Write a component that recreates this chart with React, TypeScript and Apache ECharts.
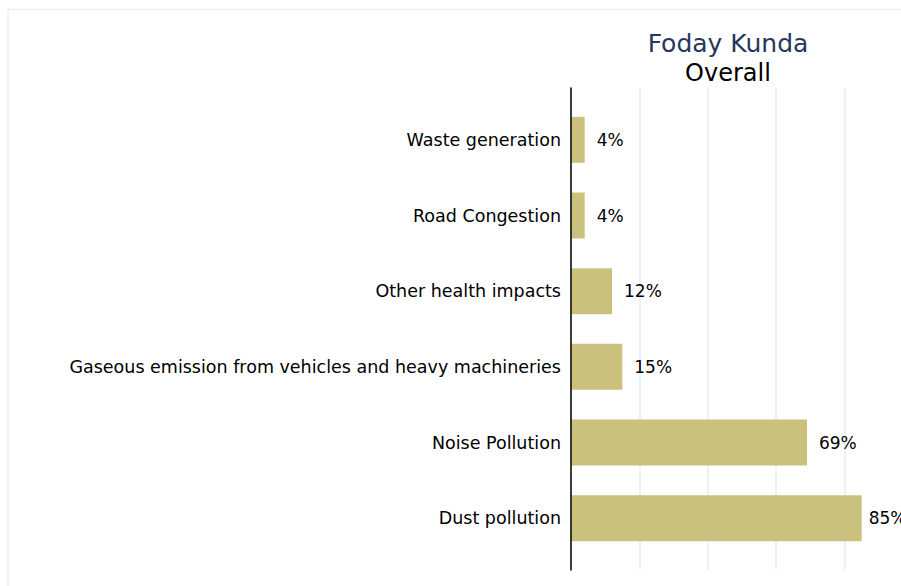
import React, { useEffect, useRef } from "react";
import * as echarts from "echarts";

const categories = [
  "Waste generation",
  "Road Congestion",
  "Other health impacts",
  "Gaseous emission from vehicles and heavy machineries",
  "Noise Pollution",
  "Dust pollution",
];
const values = [4, 4, 12, 15, 69, 85];
const xTicks = [0, 20, 40, 60, 80, 100];
const titleText = "Foday Kunda";
const subtitleText = "Overall";

const FONT = "DejaVu Sans";

export default function App() {
  const ref = useRef<HTMLDivElement>(null);
  useEffect(() => {
    if (!ref.current) return;
    const chart = echarts.init(ref.current, undefined, { renderer: "svg" });
    const xMin = xTicks[0];
    const xMax = xTicks[xTicks.length - 1];
    const xInterval = xTicks[1] - xTicks[0];
    const barData = values.map((v) =>
      v >= 80 ? { value: v, label: { distance: 7 } } : { value: v }
    );
    chart.setOption({
      animation: false,
      backgroundColor: "#ffffff",
      title: [
        {
          text: titleText,
          left: 723,
          top: 26,
          textAlign: "center",
          textStyle: { fontFamily: FONT, fontSize: 25, fontWeight: "normal", color: "#25375c" },
        },
        {
          text: subtitleText,
          left: 723,
          top: 56,
          textAlign: "center",
          textStyle: { fontFamily: FONT, fontSize: 24, fontWeight: "normal", color: "#000000" },
        },
      ],
      graphic: [
        {
          type: "rect",
          shape: { x: 8, y: 9.5, width: 1000, height: 700 },
          style: { fill: "none", stroke: "#e9f0f0", lineWidth: 1.5 },
          silent: true,
          z: -1,
        },
      ],
      grid: [
        { left: 571, width: 342, top: 88, height: 482 },
        { left: 571, width: 342, top: 102, height: 454 },
      ],
      xAxis: [
        {
          type: "value",
          gridIndex: 0,
          min: xMin,
          max: xMax,
          interval: xInterval,
          axisLine: { show: false },
          axisTick: { show: false },
          axisLabel: { show: false },
          splitLine: { show: true, lineStyle: { color: "#e4ecf0", width: 1.5 } },
        },
        {
          type: "value",
          gridIndex: 1,
          min: xMin,
          max: xMax,
          interval: xInterval,
          show: false,
          splitLine: { show: false },
        },
      ],
      yAxis: [
        {
          type: "category",
          gridIndex: 0,
          data: categories,
          inverse: true,
          axisLine: { show: true, lineStyle: { color: "#000000", width: 1.5 } },
          axisTick: { show: false },
          axisLabel: { show: false },
          splitLine: { show: false },
          z: 5,
        },
        {
          type: "category",
          gridIndex: 1,
          data: categories,
          inverse: true,
          axisLine: { show: false },
          axisTick: { show: false },
          axisLabel: {
            show: true,
            margin: 10,
            color: "#000000",
            fontFamily: FONT,
            fontSize: 17.5,
          },
          splitLine: { show: false },
        },
      ],
      series: [
        {
          type: "bar",
          xAxisIndex: 1,
          yAxisIndex: 1,
          data: barData,
          barWidth: 46,
          itemStyle: { color: "#cac17f" },
          label: {
            show: true,
            position: "right",
            distance: 12,
            formatter: "{c}%",
            color: "#000000",
            fontFamily: FONT,
            fontSize: 17,
          },
        },
      ],
    });
    return () => chart.dispose();
  }, []);
  return (
    <div
      ref={ref}
      style={{ position: "fixed", left: 0, top: 0, width: 930, height: 586 }}
    />
  );
}
